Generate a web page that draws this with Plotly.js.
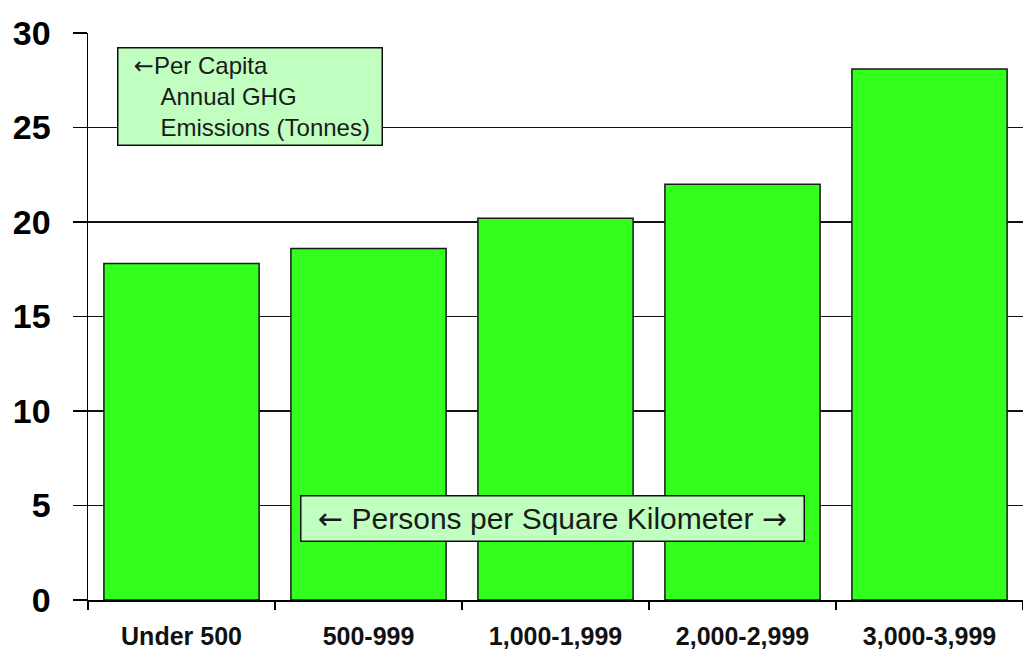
<!DOCTYPE html>
<html>
<head>
<meta charset="utf-8">
<script src="https://cdn.plot.ly/plotly-3.0.1.min.js"></script>
<style>html,body{margin:0;padding:0;background:#fff;}#chart{width:1023px;height:651px;}</style>
</head>
<body>
<div id="chart"></div>
<script>
const categories = ["Under 500", "500-999", "1,000-1,999", "2,000-2,999", "3,000-3,999"];
const emissions = [17.8, 18.6, 20.2, 22.0, 28.1];
const yTickValues = [0, 5, 10, 15, 20, 25, 30];
const ARROW_L = "<span style=\"font-family:'DejaVu Sans'\">\u2190</span>";
const ARROW_R = "<span style=\"font-family:'DejaVu Sans'\">\u2192</span>";
const boxText1 = "\u00a0\u00a0" + ARROW_L + "Per Capita<br>\u00a0\u00a0\u00a0\u00a0\u00a0\u00a0Annual GHG<br>\u00a0\u00a0\u00a0\u00a0\u00a0\u00a0Emissions (Tonnes)";
const boxText2 = ARROW_L + " Persons per Square Kilometer " + ARROW_R;

const FONT = "Arial, 'Liberation Sans', sans-serif";

const trace = {
  type: "bar",
  x: categories,
  y: emissions,
  marker: { color: "#33ff1f", line: { color: "#1a1a1a", width: 1.5 } },
  hoverinfo: "skip"
};

const layout = {
  width: 1023,
  height: 651,
  margin: { l: 88, r: 0, t: 33, b: 51 },
  paper_bgcolor: "#ffffff",
  plot_bgcolor: "#ffffff",
  showlegend: false,
  bargap: 0.17,
  font: { family: FONT, color: "#000" },
  xaxis: {
    type: "category",
    showline: true,
    linecolor: "#000",
    linewidth: 1.5,
    ticks: "outside",
    tickson: "boundaries",
    ticklen: 8,
    tickwidth: 1.5,
    tickcolor: "#000",
    showgrid: false,
    zeroline: false,
    tickfont: { family: FONT, size: 25, color: "#111", weight: "bold" },
    ticklabelstandoff: 13
  },
  yaxis: {
    range: [0, 30],
    tickvals: yTickValues,
    ticktext: yTickValues.map(String),
    showline: true,
    linecolor: "#000",
    linewidth: 1.5,
    ticks: "outside",
    ticklen: 14,
    tickwidth: 1.5,
    tickcolor: "#000",
    showgrid: true,
    gridcolor: "#111",
    gridwidth: 1.5,
    zeroline: false,
    tickfont: { family: FONT, size: 34, color: "#000", weight: "bold" },
    ticklabelstandoff: 15
  },
  annotations: [
    {
      xref: "paper", yref: "paper",
      x: (117 - 88) / 935, y: (600 - 47) / 567,
      xanchor: "left", yanchor: "top",
      align: "left",
      showarrow: false,
      text: boxText1,
      font: { family: FONT, size: 24, color: "#1a1a1a" },
      bgcolor: "#c0ffc0",
      bordercolor: "#111",
      borderwidth: 1.5,
      borderpad: 2,
      width: 259,
      height: 92
    },
    {
      xref: "paper", yref: "paper",
      x: (552 - 88) / 935, y: (600 - 518) / 567,
      xanchor: "center", yanchor: "middle",
      showarrow: false,
      text: boxText2,
      font: { family: FONT, size: 30, color: "#1a1a1a" },
      bgcolor: "#c0ffc0",
      bordercolor: "#111",
      borderwidth: 1.5,
      borderpad: 2,
      width: 498,
      height: 40
    }
  ]
};

Plotly.newPlot("chart", [trace], layout, { displayModeBar: false, staticPlot: true });
</script>
</body>
</html>
